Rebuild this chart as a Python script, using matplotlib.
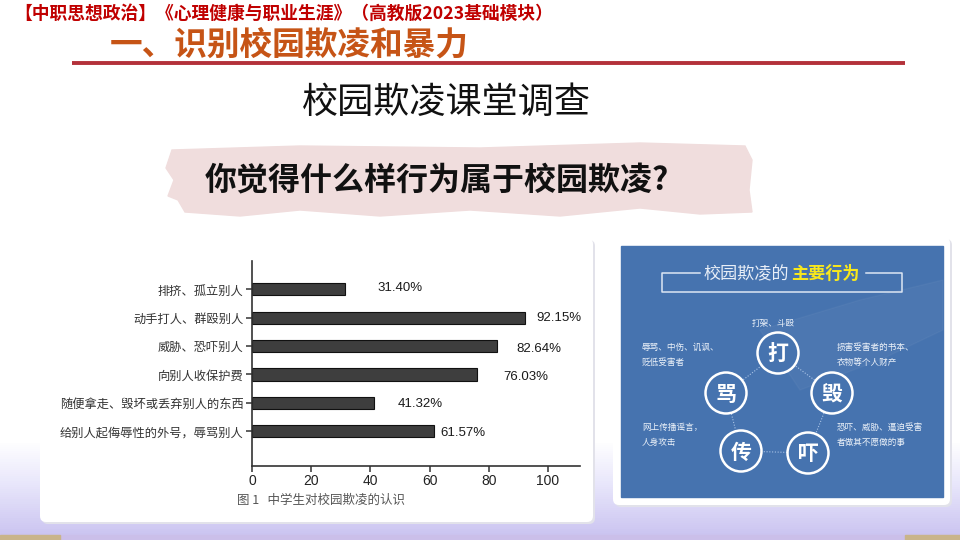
import numpy as np
import matplotlib
matplotlib.use('Agg')
import matplotlib.pyplot as plt
from matplotlib.patches import FancyBboxPatch, Circle, Polygon, Rectangle
from matplotlib.colors import LinearSegmentedColormap

plt.rcParams['font.family'] = ['Noto Sans CJK SC', 'DejaVu Sans']

# ---- data ----
categories = ['排挤、孤立别人', '动手打人、群殴别人', '威胁、恐吓别人', '向别人收保护费',
              '随便拿走、毁坏或丢弃别人的东西', '给别人起侮辱性的外号，辱骂别人']
percent = [31.40, 92.15, 82.64, 76.03, 41.32, 61.57]
xticks = [0, 20, 40, 60, 80, 100]

header = '【中职思想政治】《心理健康与职业生涯》（高教版2023基础模块）'
heading = '一、识别校园欺凌和暴力'
survey_title = '校园欺凌课堂调查'
question = '你觉得什么样行为属于校园欺凌?'
caption = '图 1   中学生对校园欺凌的认识'

info_title = '校园欺凌的'
info_title_hl = '主要行为'
info_chars = ['打', '毁', '吓', '传', '骂']
info_notes = ['打架、斗殴', '损害受害者的书本、\n衣物等个人财产', '恐吓、威胁、逼迫受害\n者做其不愿做的事',
              '网上传播谣言，\n人身攻击', '辱骂、中伤、讥讽、\n贬低受害者']

# layout (pixel positions on the 960x540 slide)
label_x = [42.5, 96.0, 89.2, 85.0, 49.1, 63.8]
label_dy = [-0.06, 0.0, 0.1, 0.08, 0.06, 0.07]
circ_xy = [(778, 353), (832, 393), (808, 453), (741, 451), (726, 393)]
note_xy = [(773, 323, 'center'), (837, 355, 'left'), (837, 435, 'left'),
           (642, 435, 'left'), (642, 355, 'left')]

fig = plt.figure(figsize=(9.6, 5.4), dpi=100)
bg = fig.add_axes([0, 0, 1, 1])
bg.set_xlim(0, 960)
bg.set_ylim(540, 0)
bg.axis('off')

# background: white fading into lavender at the bottom
cmap = LinearSegmentedColormap.from_list('bgfade', [(0, '#ffffff'), (0.82, '#ffffff'),
                                                     (0.9, '#e8e6fb'), (1.0, '#c9c2f0')])
grad = np.linspace(0, 1, 540)[:, None] * np.ones((1, 10))
bg.imshow(grad, cmap=cmap, extent=[0, 960, 540, 0], aspect='auto', zorder=0)
bg.add_patch(Rectangle((0, 535), 960, 5, color='#cbbfe9', zorder=1))
bg.add_patch(Rectangle((0, 535), 60, 5, color='#c9b48a', zorder=1))
bg.add_patch(Rectangle((905, 535), 55, 5, color='#c9b48a', zorder=1))

# header texts
bg.text(14, 14, header, color='#c00000', fontsize=12.8, fontweight='bold', va='center', ha='left')
bg.text(110, 45, heading, color='#c65416', fontsize=23.5, fontweight='bold', va='center', ha='left')
bg.plot([72, 905], [63, 63], color='#b3313a', lw=2.8, solid_capstyle='butt')

bg.text(446, 103, survey_title, color='#111111', fontsize=26, fontweight='light',
        va='center', ha='center')

# pink brush band
band = [(172, 150), (300, 146), (480, 148), (640, 143), (745, 146), (752, 160), (749, 190),
        (752, 212), (700, 214), (640, 208), (560, 216), (470, 210), (380, 216), (300, 210),
        (240, 216), (185, 212), (178, 200), (168, 196), (174, 180), (166, 168)]
bg.add_patch(Polygon(band, closed=True, color='#f0dddd', zorder=1))
bg.text(205, 181, question, color='#111111', fontsize=23, fontweight='bold',
        va='center', ha='left', zorder=2)

# panels
bg.add_patch(FancyBboxPatch((42, 240), 553, 284, boxstyle='round,pad=0,rounding_size=6',
                            fc='#e2e2ea', ec='none', zorder=2))
bg.add_patch(FancyBboxPatch((40, 238), 553, 284, boxstyle='round,pad=0,rounding_size=6',
                            fc='white', ec='none', zorder=2))
bg.add_patch(FancyBboxPatch((615, 239), 337, 268, boxstyle='round,pad=0,rounding_size=6',
                            fc='#e2e2ea', ec='none', zorder=2))
bg.add_patch(FancyBboxPatch((613, 237), 337, 268, boxstyle='round,pad=0,rounding_size=6',
                            fc='white', ec='none', zorder=2))

# infographic panel
blue = '#4673af'
bg.add_patch(Rectangle((621, 246), 322, 251, color=blue, zorder=3))
bg.add_patch(Polygon([(760, 330), (860, 300), (943, 280), (943, 330), (880, 360), (800, 390)],
                     closed=True, color='white', alpha=0.035, zorder=3))
bg.plot([700, 662, 662, 902, 902, 866], [273, 273, 292, 292, 273, 273], color='#dde6f3',
        lw=1.1, zorder=4)
bg.text(704, 274, info_title, color='#e8eef7', fontsize=12.3, va='center', ha='left', zorder=4)
bg.text(791, 274, info_title_hl, color='#f8e81c', fontsize=12.3, fontweight='bold',
        va='center', ha='left', zorder=4)

order = [0, 1, 2, 3, 4, 0]
bg.plot([circ_xy[k][0] for k in order], [circ_xy[k][1] for k in order], color='#a9c3e6',
        lw=0.8, ls=(0, (1, 1.5)), zorder=4)
for (cx, cy), ch in zip(circ_xy, info_chars):
    bg.add_patch(Circle((cx, cy), 20.5, fc=blue, ec='white', lw=1.8, zorder=5))
    bg.text(cx, cy + 1, ch, color='white', fontsize=15, fontweight='bold', va='center',
            ha='center', zorder=6)
for (nx, ny, ha), note in zip(note_xy, info_notes):
    bg.text(nx, ny, note, color='#eef3fa', fontsize=6.2, va='center', ha=ha,
            linespacing=1.9, zorder=6)

# ---- the bar chart ----
ax = fig.add_axes([252 / 960, 74 / 540, 328 / 960, 205 / 540])
ax.set_facecolor('none')
y = np.arange(len(categories))
ax.barh(y, percent, height=0.43, color='#3e3e3e', edgecolor='#111111', linewidth=0.8)
for i, v in enumerate(percent):
    ax.text(label_x[i], y[i] + label_dy[i], f'{v:.2f}%', va='center', ha='left',
            fontsize=9.5, family='Liberation Sans', color='#1a1a1a')
ax.set_xlim(0, 110.8)
ax.set_ylim(6.23, -1.0)
ax.set_xticks(xticks)
ax.set_xticklabels([str(t) for t in xticks], family='Liberation Sans', fontsize=10, color='#222222')
ax.set_yticks(y)
ax.set_yticklabels(categories, fontsize=8.8, color='#333333')
ax.tick_params(axis='both', direction='out', length=4, width=1.1, color='#333333', pad=2)
for s in ['top', 'right']:
    ax.spines[s].set_visible(False)
for s in ['left', 'bottom']:
    ax.spines[s].set_color('#333333')
    ax.spines[s].set_linewidth(1.2)

bg.text(321, 500, caption, color='#555555', fontsize=9, va='center', ha='center', zorder=6)

fig.savefig('out.png', dpi=100)
